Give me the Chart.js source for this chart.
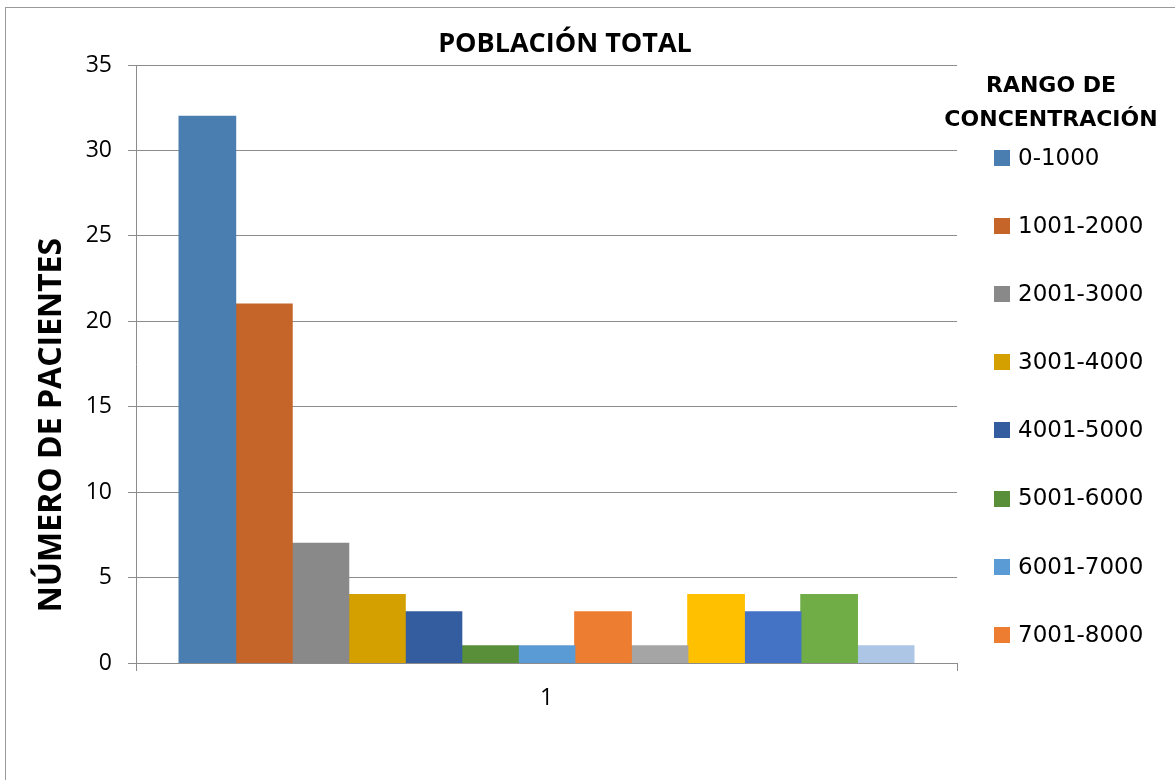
<!DOCTYPE html>
<html>
<head>
<meta charset="utf-8">
<script src="https://cdn.jsdelivr.net/npm/chart.js@4.4.1/dist/chart.umd.min.js"></script>
<style>
  html, body { margin: 0; padding: 0; background: #ffffff; }
  #wrap { width: 1175px; height: 780px; }
</style>
</head>
<body>
<div id="wrap"><canvas id="chart" width="1175" height="780"></canvas></div>
<script>
// Patient counts per concentration range (single category "1")
const categories = ['1'];
const ranges = [
  '0-1000', '1001-2000', '2001-3000', '3001-4000', '4001-5000',
  '5001-6000', '6001-7000', '7001-8000', '8001-9000', '9001-10000',
  '10001-11000', '11001-12000', '12001-13000'
];
const patients = [32, 21, 7, 4, 3, 1, 1, 3, 1, 4, 3, 4, 1];
const rangeColors = [
  '#4a7eb1', '#c5652a', '#898989', '#d3a000', '#345da0',
  '#5a8f3a', '#5b9bd5', '#ed7d31', '#a5a5a5', '#ffc000',
  '#4472c4', '#70ad47', '#adc6e5'
];
const legendShown = 8;
const chartTitle = 'POBLACIÓN TOTAL';
const yTitle = 'NÚMERO DE PACIENTES';
const legendTitle = ['RANGO DE', 'CONCENTRACIÓN'];

const AXIS_GREY = '#8c8c8c';

// Outer frame, chart title, vertical axis title and the side legend
const frameAndLegend = {
  id: 'frameAndLegend',
  beforeDraw(chart) {
    const ctx = chart.ctx;
    ctx.save();
    ctx.fillStyle = '#ffffff';
    ctx.fillRect(0, 0, chart.width, chart.height);
    ctx.strokeStyle = '#9a9a9a';
    ctx.lineWidth = 1;
    ctx.strokeRect(5.5, 7.5, chart.width + 50, chart.height + 50);
    ctx.restore();
  },
  afterDraw(chart) {
    const ctx = chart.ctx;
    ctx.save();
    ctx.fillStyle = '#000000';
    ctx.textAlign = 'center';
    ctx.textBaseline = 'middle';

    // chart title
    ctx.font = 'bold 27px "Open Sans"';
    ctx.fillText(chartTitle, 565, 44);

    // vertical axis title
    ctx.save();
    ctx.translate(52, 425);
    ctx.rotate(-Math.PI / 2);
    ctx.font = 'bold 32px "Open Sans"';
    ctx.fillText(yTitle, 0, 0);
    ctx.restore();

    // legend
    ctx.font = 'bold 22px "DejaVu Sans"';
    ctx.fillText(legendTitle[0], 1051, 86);
    ctx.fillText(legendTitle[1], 1051, 120);
    ctx.textAlign = 'left';
    ctx.font = '23px "DejaVu Sans"';
    const sets = chart.data.datasets;
    for (let i = 0; i < legendShown && i < sets.length; i++) {
      const y = 158 + i * 68.1;
      ctx.fillStyle = sets[i].backgroundColor;
      ctx.fillRect(994, Math.round(y - 8), 16, 16);
      ctx.fillStyle = '#000000';
      ctx.fillText(sets[i].label, 1018, y + 1);
    }
    ctx.restore();
  }
};

const datasets = ranges.map((r, i) => ({
  label: r,
  data: [patients[i]],
  backgroundColor: rangeColors[i],
  borderWidth: 0,
  inflateAmount: 0.6,
  categoryPercentage: 0.895,
  barPercentage: 1.0
}));

new Chart(document.getElementById('chart'), {
  type: 'bar',
  data: { labels: categories, datasets: datasets },
  plugins: [frameAndLegend],
  options: {
    responsive: false,
    animation: false,
    layout: { padding: { top: 65, left: 0, right: 218, bottom: 0 } },
    plugins: {
      legend: { display: false },
      tooltip: { enabled: false },
      title: { display: false }
    },
    scales: {
      x: {
        grid: { drawOnChartArea: false, tickLength: 8, color: AXIS_GREY, offset: true },
        border: { color: AXIS_GREY },
        ticks: { color: '#000000', padding: 14, font: { family: '"Open Sans"', size: 23 } },
        afterFit(scale) { scale.height = 117; }
      },
      y: {
        min: 0,
        max: 35,
        ticks: { stepSize: 5, color: '#000000', padding: 16, font: { family: '"Open Sans"', size: 23 } },
        grid: { color: AXIS_GREY, tickLength: 8 },
        border: { color: AXIS_GREY },
        afterFit(scale) { scale.width = 136; }
      }
    }
  }
});
</script>
</body>
</html>
